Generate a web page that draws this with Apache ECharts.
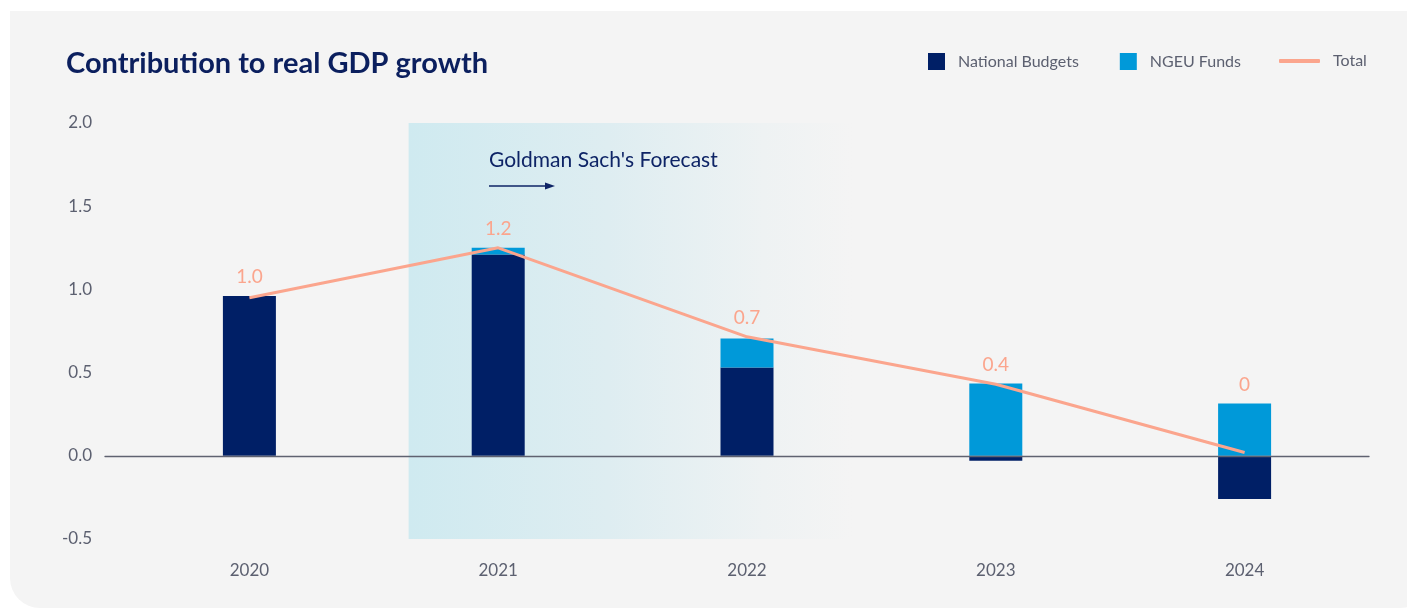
<!DOCTYPE html>
<html>
<head>
<meta charset="utf-8">
<script src="https://cdn.jsdelivr.net/npm/echarts@6/dist/echarts.min.js"></script>
<style>
  html, body { margin: 0; padding: 0; background: #ffffff; width: 1407px; height: 609px; overflow: hidden; }
  #panel { position: absolute; left: 10px; top: 11px; width: 1420px; height: 597px; background: #f4f4f4; border-radius: 0 0 30px 30px; }
  #chart { position: absolute; left: 0; top: 0; width: 1407px; height: 609px; }
</style>
</head>
<body>
<div id="panel"></div>
<div id="chart"></div>
<script>
const categories = ['2020', '2021', '2022', '2023', '2024'];
const nationalBudgets = [0.96, 1.21, 0.53, -0.03, -0.26];
const ngeuFunds = [0.0, 0.04, 0.175, 0.435, 0.315];
const total = [0.95, 1.25, 0.715, 0.43, 0.02];
const totalLabels = ['1.0', '1.2', '0.7', '0.4', '0'];
const yTicks = { min: -0.5, max: 2.0, interval: 0.5 };
const forecastSpan = [0.64, 2.42]; // position along category index scale

const NAVY = '#001f66';
const BLUE = '#0099d9';
const SALMON = '#fba58d';
const GREY = '#5c6070';
const FONT = 'Lato';

const chart = echarts.init(document.getElementById('chart'), null, { renderer: 'canvas' });

const option = {
  backgroundColor: 'transparent',
  textStyle: { fontFamily: FONT },
  title: {
    text: 'Contribution to real GDP growth',
    left: 61, top: 44,
    textStyle: { fontFamily: FONT, fontWeight: 'bold', fontSize: 29, color: '#0b1f5e' }
  },
  legend: [
    {
      data: ['National Budgets', 'NGEU Funds'],
      left: 923, top: 48,
      icon: 'rect', itemWidth: 17, itemHeight: 17, itemGap: 41,
      textStyle: { fontFamily: FONT, fontSize: 16, color: GREY, padding: [0, 0, 0, 8] }
    },
    {
      data: [{ name: 'Total', icon: 'roundRect', itemStyle: { color: SALMON } }],
      left: 1274, top: 48,
      itemWidth: 41, itemHeight: 4,
      textStyle: { fontFamily: FONT, fontSize: 16, color: GREY, padding: [0, 0, 0, 8] }
    }
  ],
  grid: [
    { left: 125, right: 38, top: 123, bottom: 70 },
    { left: 105, right: 38, top: 123, bottom: 70 }
  ],
  xAxis: [
    {
      type: 'category', data: categories, gridIndex: 0,
      axisLine: { show: false, onZero: false },
      axisTick: { show: false },
      axisLabel: { fontFamily: FONT, fontSize: 17, color: GREY, margin: 23 }
    },
    { type: 'value', gridIndex: 0, min: -0.5, max: 4.5, show: false },
    {
      type: 'value', gridIndex: 1, min: 0, max: 1, z: 4,
      axisLine: { show: true, onZero: true, lineStyle: { color: '#5f6270', width: 1.3 } },
      axisTick: { show: false }, axisLabel: { show: false }, splitLine: { show: false }
    }
  ],
  yAxis: [
    {
      type: 'value', gridIndex: 0, min: yTicks.min, max: yTicks.max, interval: yTicks.interval,
      axisLine: { show: false }, axisTick: { show: false }, splitLine: { show: false },
      axisLabel: { fontFamily: FONT, fontSize: 17, color: GREY, margin: 33,
        formatter: v => v.toFixed(1) }
    },
    { type: 'value', gridIndex: 1, min: yTicks.min, max: yTicks.max, show: false }
  ],
  series: [
    {
      name: 'forecast', type: 'line', xAxisIndex: 1, yAxisIndex: 0,
      data: [], silent: true, z: 0,
      markArea: {
        silent: true,
        itemStyle: {
          color: {
            type: 'linear', x: 0, y: 0, x2: 1, y2: 0,
            colorStops: [
              { offset: 0, color: '#cfeaf0' },
              { offset: 0.45, color: '#deedf1' },
              { offset: 0.8, color: '#eef2f3' },
              { offset: 1, color: '#f4f4f4' }
            ]
          }
        },
        data: [[{ coord: [forecastSpan[0], yTicks.max] }, { coord: [forecastSpan[1], yTicks.min] }]]
      }
    },
    {
      name: 'National Budgets', type: 'bar', stack: 'gdp', data: nationalBudgets,
      barWidth: 53, itemStyle: { color: NAVY }, z: 3
    },
    {
      name: 'NGEU Funds', type: 'bar', stack: 'gdp', data: ngeuFunds,
      barWidth: 53, itemStyle: { color: BLUE }, z: 3
    },
    {
      name: 'Total', type: 'line', data: total, z: 5,
      symbol: 'circle', symbolSize: 1, showSymbol: true,
      lineStyle: { color: SALMON, width: 3 }, itemStyle: { color: 'rgba(0,0,0,0)' },
      label: {
        show: true, position: 'top', distance: 9,
        fontFamily: FONT, fontSize: 19, color: SALMON,
        formatter: p => totalLabels[p.dataIndex]
      }
    }
  ],
  graphic: [
    {
      type: 'text', left: 489, top: 150, z: 10,
      style: { text: "Goldman Sach's Forecast", font: '21px Lato', fill: '#0e2466' }
    },
    {
      type: 'line', z: 10,
      shape: { x1: 489, y1: 186, x2: 548, y2: 186 },
      style: { stroke: '#0e2466', lineWidth: 1.3 }
    },
    {
      type: 'polygon', z: 10,
      shape: { points: [[545, 182.5], [555, 186], [545, 189.5]] },
      style: { fill: '#0e2466' }
    }
  ]
};

chart.setOption(option);

// place each Total label above the higher of the stack top and the line point
const labelData = total.map((t, i) => {
  const top = Math.max(t, nationalBudgets[i] > 0 ? nationalBudgets[i] + ngeuFunds[i] : ngeuFunds[i]);
  const yLine = chart.convertToPixel({ xAxisIndex: 0, yAxisIndex: 0 }, [i, t])[1];
  const yTop = chart.convertToPixel({ xAxisIndex: 0, yAxisIndex: 0 }, [i, top])[1];
  return { value: t, label: { offset: [0, yTop - yLine] } };
});
chart.setOption({ series: [{}, {}, {}, { data: labelData }] });
</script>
</body>
</html>
